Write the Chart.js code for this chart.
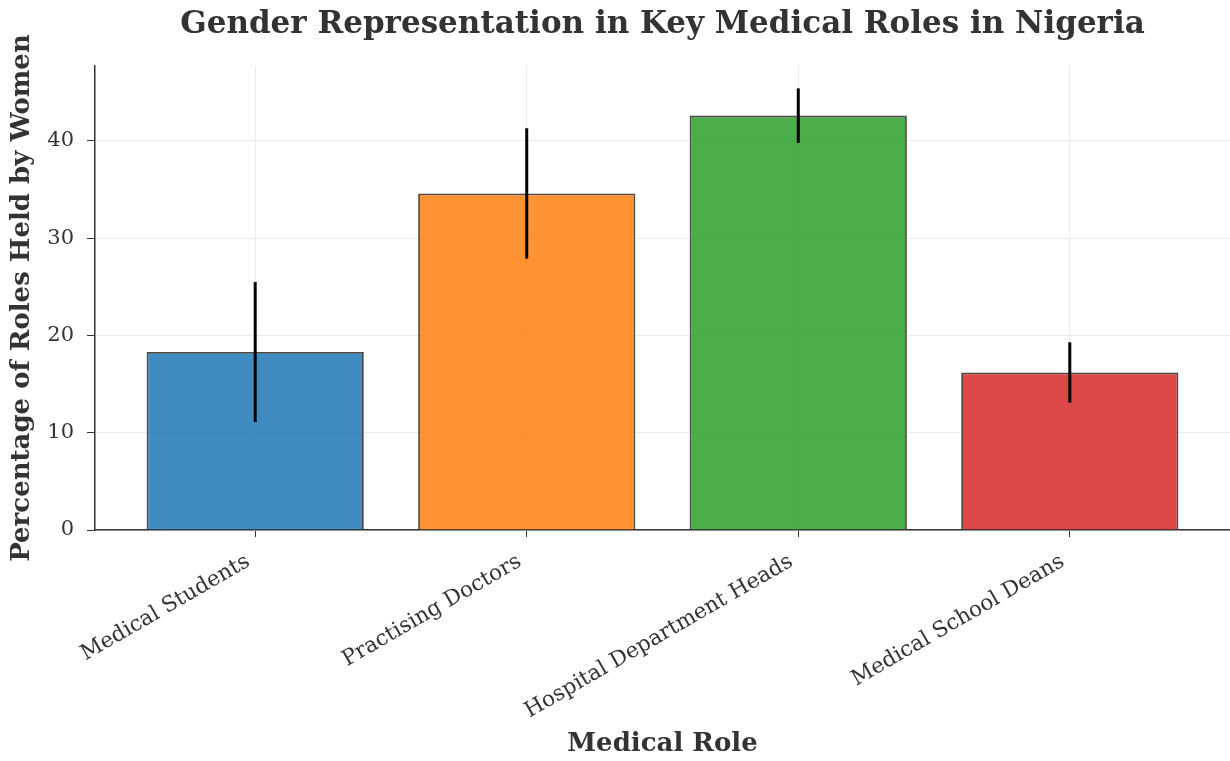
<!DOCTYPE html>
<html>
<head>
<meta charset="utf-8">
<script src="https://cdn.jsdelivr.net/npm/chart.js@4"></script>
<style>
  body { margin: 0; background: #fff; }
  #wrap { width: 1230px; height: 761px; }
</style>
</head>
<body>
<div id="wrap"><canvas id="myChart"></canvas></div>
<script>
const roles = ['Medical Students', 'Practising Doctors', 'Hospital Department Heads', 'Medical School Deans'];
const womenShare = [18.3, 34.6, 42.6, 16.2];
const shareError = [7.2, 6.7, 2.8, 3.1];
const yTicks = [0, 10, 20, 30, 40];
const chartTitle = 'Gender Representation in Key Medical Roles in Nigeria';

const barColors = ['rgba(31,119,180,0.85)', 'rgba(255,127,14,0.85)', 'rgba(44,160,44,0.85)', 'rgba(214,39,40,0.85)'];

// simple vertical error bars, no caps
const errorBars = {
    id: 'errorBars',
    afterDatasetsDraw(chart) {
        const c = chart.ctx;
        const y = chart.scales.y;
        const meta = chart.getDatasetMeta(0);
        c.save();
        c.strokeStyle = '#000';
        c.lineWidth = 3;
        meta.data.forEach((bar, i) => {
            const v = womenShare[i];
            c.beginPath();
            c.moveTo(bar.x, y.getPixelForValue(v - shareError[i]));
            c.lineTo(bar.x, y.getPixelForValue(v + shareError[i]));
            c.stroke();
        });
        c.restore();
    }
};

// title centred over the plot area, like matplotlib does
const axesTitle = {
    id: 'axesTitle',
    afterDraw(chart) {
        const c = chart.ctx;
        const a = chart.chartArea;
        c.save();
        c.fillStyle = '#333';
        c.font = 'bold 31px "DejaVu Serif"';
        c.textAlign = 'center';
        c.textBaseline = 'alphabetic';
        c.fillText(chartTitle, (a.left + a.right) / 2, 33);
        c.restore();
    }
};

const points = womenShare.map((v, i) => ({ x: i, y: v }));

const ctx = document.getElementById('myChart').getContext('2d');
const myChart = new Chart(ctx, {
    type: 'bar',
    data: {
        datasets: [{
            data: points,
            backgroundColor: barColors,
            borderColor: '#4a4a4a',
            borderWidth: 1.8,
            barPercentage: 0.8,
            categoryPercentage: 1
        }]
    },
    options: {
        responsive: true,
        maintainAspectRatio: false,
        animation: false,
        layout: { padding: { top: 66, right: 0, left: 0, bottom: 0 } },
        plugins: {
            legend: { display: false },
            tooltip: { enabled: false },
            title: { display: false }
        },
        scales: {
            x: {
                type: 'linear',
                offset: false,
                min: -0.59,
                max: 3.59,
                afterBuildTicks(axis) {
                    axis.ticks = roles.map((r, i) => ({ value: i }));
                },
                afterFit(axis) { axis.height = 231; },
                ticks: {
                    callback: (v) => roles[v],
                    color: '#333',
                    font: { family: 'DejaVu Serif', size: 21.5 },
                    minRotation: 30,
                    maxRotation: 30,
                    padding: 12,
                    labelOffset: -7
                },
                grid: { offset: false, color: '#ebebeb', tickColor: '#333', tickLength: 7, lineWidth: 1 },
                border: { color: '#333', width: 1.5 },
                title: {
                    display: true,
                    text: 'Medical Role',
                    color: '#333',
                    font: { family: 'DejaVu Serif', size: 26, weight: 'bold' },
                    padding: { top: 4, bottom: 1 }
                }
            },
            y: {
                min: 0,
                max: 47.7,
                afterBuildTicks(axis) {
                    axis.ticks = yTicks.map(v => ({ value: v }));
                },
                afterFit(axis) { axis.width = 95; },
                ticks: {
                    color: '#333',
                    font: { family: 'DejaVu Serif', size: 21 },
                    padding: 13
                },
                grid: { color: '#ebebeb', tickColor: '#333', tickLength: 8, lineWidth: 1 },
                border: { color: '#333', width: 1.5 },
                title: {
                    display: true,
                    text: 'Percentage of Roles Held by Women',
                    color: '#333',
                    font: { family: 'DejaVu Serif', size: 26, weight: 'bold' },
                    padding: { top: 7, bottom: 0 }
                }
            }
        }
    },
    plugins: [errorBars, axesTitle]
});
</script>
</body>
</html>
